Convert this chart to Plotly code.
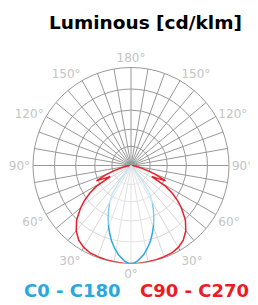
import plotly.graph_objects as go

# Data (angle from nadir in degrees, relative intensity with outer ring = 100)
c0_angles = [0, 1.6, 4, 8, 11, 14.2, 17.5, 20.8, 23.5, 26, 29.5, 33, 36.6, 38, 39.5]
c0_values = [100, 99.7, 97.5, 92.1, 86.5, 80.1, 72.5, 65.0, 58.5, 52.5, 44.5, 36.0, 18.7, 9, 0]

c90_angles = [0, 5, 10, 15, 20, 25, 30, 35, 40, 45, 50, 53, 56, 59, 62, 64, 66, 70, 73, 76, 80, 90]
c90_values = [100, 100, 99.8, 99.5, 99, 98.5, 96.5, 93, 87, 78.5, 67, 59.5, 50.8, 41, 24, 30, 38.6, 27,
              18, 11, 5, 0]

tick_angles = list(range(0, 360, 10))
tick_labels = [f"{a if a <= 180 else 360 - a}°" if a % 30 == 0 else "" for a in tick_angles]
ring_values = [19.5, 37, 56.5, 78, 100]

BLUE = "#29abe2"
BLUE_MID = "#7fcdee"
BLUE_LIGHT = "#c2e7f7"
RED = "#e8202a"


def mirror(angles, values):
    th = [-a for a in reversed(angles)] + angles[1:]
    r = list(reversed(values)) + values[1:]
    return th, r


fig = go.Figure()
th, r = mirror(c90_angles, c90_values)
fig.add_trace(go.Scatterpolar(theta=th, r=r, mode="lines", fill="toself",
                              fillcolor="rgba(255,255,255,0.6)",
                              line=dict(color=RED, width=1.5), showlegend=False))
th, r = mirror(c0_angles, c0_values)
fig.add_trace(go.Scatterpolar(theta=th, r=r, mode="none", fill="toself",
                              fillcolor="rgba(255,255,255,0.3)", showlegend=False))


def seg(lo, hi, color):
    idx = [i for i, a in enumerate(c0_angles) if lo <= a <= hi]
    a = [c0_angles[i] for i in idx]
    v = [c0_values[i] for i in idx]
    for sgn in (1, -1):
        fig.add_trace(go.Scatterpolar(theta=[sgn * x for x in a], r=v, mode="lines",
                                      line=dict(color=color, width=1.5), showlegend=False))


seg(29.5, 40, BLUE_LIGHT)
seg(20.8, 29.5, BLUE_MID)
seg(0, 20.8, BLUE)

W, H = 250, 297  # page body has an 8px margin inside the 258x305 window
off = 8
cx, cy, R = 131 - off, 165.5 - off, 98
fig.update_layout(
    width=W, height=H,
    margin=dict(l=0, r=0, t=0, b=0),
    paper_bgcolor="white",
    font=dict(family="DejaVu Sans"),
    polar=dict(
        domain=dict(x=[(cx - R) / W, (cx + R) / W], y=[(H - cy - R) / H, (H - cy + R) / H]),
        bgcolor="white",
        radialaxis=dict(range=[0, 100], tickvals=ring_values, showticklabels=False,
                        ticks="", showline=False, gridcolor="#999999", gridwidth=1,
                        layer="below traces"),
        angularaxis=dict(rotation=-90, direction="clockwise", tickvals=tick_angles,
                         ticktext=tick_labels, ticks="", showline=True,
                         linecolor="#999999", linewidth=1, gridcolor="#999999",
                         gridwidth=1, layer="below traces",
                         tickfont=dict(size=12, color="#c4c4c4", family="DejaVu Sans")),
    ),
    annotations=[
        dict(text="<b>Luminous [cd/klm]</b>", x=(145 - off) / W, y=1 - (22 - off) / H,
             xref="paper", yref="paper", xanchor="center", yanchor="middle",
             showarrow=False, font=dict(size=18.5, color="black", family="DejaVu Sans")),
        dict(text="<b>C0 - C180</b>", x=(72.5 - off) / W, y=1 - (290 - off) / H,
             xref="paper", yref="paper", xanchor="center", yanchor="middle",
             showarrow=False, font=dict(size=18, color="#2aa7df", family="DejaVu Sans")),
        dict(text="<b>C90 - C270</b>", x=(194 - off) / W, y=1 - (290 - off) / H,
             xref="paper", yref="paper", xanchor="center", yanchor="middle",
             showarrow=False, font=dict(size=18, color="#ec1c24", family="DejaVu Sans")),
    ],
)
fig.write_html("out.html")
